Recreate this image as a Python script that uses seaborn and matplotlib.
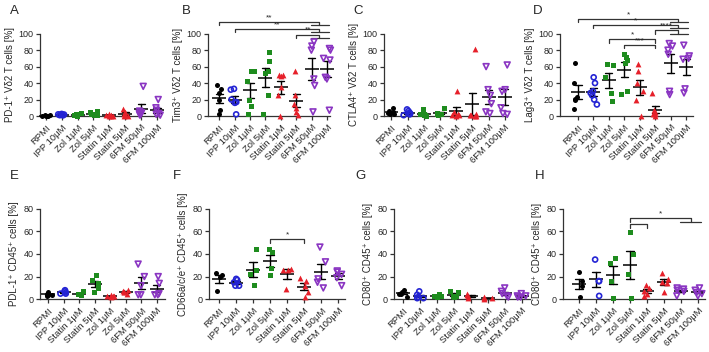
import numpy as np
import pandas as pd
import seaborn as sns
import matplotlib.pyplot as plt

sns.set_style('ticks')
plt.rcParams['font.family'] = ['Liberation Sans', 'DejaVu Sans']
np.random.seed(7)  # only for horizontal jitter of the dots

# categories
cats = ['RPMI', 'IPP 10μM', 'Zol 1μM', 'Zol 5μM', 'Statin 1μM', 'Statin 5μM', '6FM 50μM', '6FM 100μM']
cats_pdl1 = ['RPMI', 'IPP 10μM', 'Statin 1μM', 'Statin 5μM', 'Zol 1μM', 'Zol 5μM', '6FM 50μM', '6FM 100μM']

# top row: % of Vd2 T cells
pd1_vd2 = [[0.5, 0.3, 0.8, 0.2, 1.0, 0.4], [1.5, 2.0, 1.0, 2.5, 0.8, 1.8],
           [0.5, 1.2, 2.0, 3.5, 0.8, 1.5], [5.5, 4.5, 2.0, 1.0, 3.0, 1.5],
           [0.3, 1.0, 2.5, 0.5, 1.5, 0.2], [9.0, 5.0, 2.0, 1.0, 0.5, 0.3],
           [36, 6, 4, 3, 2, 1], [20, 10, 7, 3, 2, 1]]
tim3_vd2 = [[38, 33, 28, 20, 7, 3], [33, 32, 20, 17, 16, 2],
            [55, 55, 42, 20, 12, 2], [78, 67, 55, 52, 25, 3],
            [50, 49, 50, 35, 25, 0], [55, 25, 15, 10, 5, 1],
            [90, 85, 80, 45, 37, 5], [82, 80, 70, 68, 47, 45, 7]]
ctla4_vd2 = [[10, 6, 5, 4, 3, 2], [8, 6, 4, 3, 2, 1],
             [9, 3, 2, 1, 1, 0], [10, 4, 3, 2, 2, 1],
             [30, 5, 2, 1, 1, 0], [82, 3, 1, 1, 0, 0],
             [60, 32, 25, 15, 5, 3], [62, 32, 30, 10, 3, 2]]
lag3_vd2 = [[65, 40, 23, 20, 21, 8], [47, 40, 30, 28, 25, 20, 14],
            [62, 63, 47, 28, 18], [75, 72, 68, 65, 30, 27],
            [63, 55, 40, 30, 20, 0], [28, 7, 5, 3, 2, 0],
            [88, 85, 80, 75, 30, 26], [86, 73, 70, 69, 33, 28]]

# bottom row: % of CD45+ cells
pdl1_cd45 = [[6, 5, 4, 4, 3], [8, 7, 6, 5, 5], [7, 5, 5, 4, 4],
             [21, 17, 14, 10, 6], [4, 3, 3, 3, 2], [8, 7, 6, 6, 5],
             [31, 20, 12, 4, 4], [20, 14, 4, 4, 5]]
cd66_cd45 = [[23.5, 21, 20, 7], [18, 17, 15, 12, 12], [44, 26, 22, 13],
             [44, 42, 28, 21], [27, 26, 26, 9], [19, 16, 12, 6, 2],
             [46, 33, 18, 15, 10], [25, 24, 22, 19, 12]]
cd80_cd45_g = [[8, 6, 5, 5, 2], [7, 4, 2, 1, 1], [5, 3, 3, 2], [7, 6, 3, 3, 2],
               [5, 4, 3, 1], [2, 1, 1, 0], [10, 7, 5, 3, 2], [5, 3, 3, 2, 2]]
cd80_cd45_h = [[24, 16, 12, 2], [35, 16, 16, 3], [36, 32, 16, 1], [59, 40, 22, 1],
               [13, 10, 7, 5, 3], [23, 18, 15, 14, 6], [10, 9, 8, 7, 3], [10, 8, 6, 5, 3]]

# significance: (from, to, level, label, to 6FM pair)
sig_b = [(0, 6.5, 114, '**', True), (1, 6.5, 106, '**', True), (5, 6.5, 99, '**', True)]
sig_d = [(0, 6.5, 118, '*', True), (1, 6.5, 111, '*', True), (5, 6.5, 104, '****', True),
         (2, 5, 93, '*', False), (3, 5, 86.5, '***', False)]
sig_f = [(3, 5, 53, '*', False)]
sig_h = [(3, 6.6, 71.7, '*', True), (3, 4, 66.4, '', False)]

colors = ['#000000', '#2424d4', '#1e8c1e', '#1e8c1e', '#e6202a', '#e6202a', '#8a35c2', '#8a35c2']
markers = ['o', 'o', 's', 's', '^', '^', 'v', 'v']
hollow = [False, True, False, False, False, False, True, True]

W, H = 709, 352
fig = plt.figure(figsize=(W / 100, H / 100), dpi=100)


def add_ax(left, right, top, bottom):
    return fig.add_axes([left / W, 1 - bottom / H, (right - left) / W, (bottom - top) / H])


def bracket(ax, x0, x1, y, label, group, drop):
    kw = dict(color='#333333', lw=0.9, clip_on=False)
    ax.plot([x0, x0, x1, x1], [y - drop, y, y, y - drop], **kw)
    if group:
        ax.plot([5.95, 7.15], [y - drop, y - drop], **kw)
    if label:
        ax.annotate(label, xy=((x0 + x1) / 2, y), xytext=(0, 0.5), textcoords='offset points',
                    ha='center', va='bottom', fontsize=6, annotation_clip=False)


def panel(rect, order, vals, ylabel, ymax, xlim, sigs=()):
    ax = add_ax(*rect)
    df = pd.DataFrame([(c, v) for c, vs in zip(order, vals) for v in vs], columns=['cat', 'val'])
    for i, c in enumerate(order):
        sub = df[df.cat == c]
        sz = 4.2 if markers[i] in ('^', 'v') else 3.6
        n_before = len(ax.collections)
        sns.stripplot(data=sub, x='cat', y='val', order=order, ax=ax, color=colors[i],
                      marker=markers[i], size=sz, linewidth=0, jitter=0.25)
        for coll in ax.collections[n_before:]:
            if len(coll.get_offsets()) == 0:
                coll.remove()
            elif hollow[i]:
                coll.set_facecolor('none')
                coll.set_edgecolor(colors[i])
                coll.set_linewidth(1.2)
    sns.pointplot(data=df, x='cat', y='val', order=order, ax=ax, errorbar='se', color='black',
                  linestyle='none', marker='_', markersize=9.5, markeredgewidth=1.1,
                  capsize=0.45, err_kws={'linewidth': 1.0})
    for art in list(ax.collections) + list(ax.lines):
        art.set_clip_on(False)
    ax.set_ylim(0, ymax)
    ax.set_yticks(np.arange(0, ymax + 1, 20))
    ax.set_xlim(*xlim)
    ax.set_xlabel('')
    ax.set_ylabel(ylabel, fontsize=7, labelpad=3)
    ax.set_xticks(range(len(order)))
    ax.set_xticklabels(order, rotation=45, ha='right', rotation_mode='anchor', fontsize=6.8)
    ax.tick_params(axis='y', labelsize=6.5, length=3, width=0.9, pad=1.5, color='#333333')
    ax.tick_params(axis='x', length=3, width=0.9, pad=2, color='#333333')
    sns.despine(ax=ax)
    for s in ('left', 'bottom'):
        ax.spines[s].set_linewidth(0.9)
        ax.spines[s].set_color('#333333')
    drop = ymax * 0.04
    for x0, x1, lvl, lab, grp in sigs:
        bracket(ax, x0, x1, lvl, lab, grp, drop)
    return ax


top, bot = 33.7, 116
panel((40, 160, top, bot), cats, pd1_vd2, 'PD-1⁺ Vδ2 T cells [%]', 100, (-0.36, 7.19))
panel((208, 330, top, bot), cats, tim3_vd2, 'Tim3⁺ Vδ2 T cells [%]', 100, (-0.73, 7.19), sig_b)
panel((384, 507, top, bot), cats, ctla4_vd2, 'CTLA4⁺ Vδ2 T cells [%]', 100, (-0.46, 7.14))
panel((560, 693, top, bot), cats, lag3_vd2, 'Lag3⁺ Vδ2 T cells [%]', 100, (-1.17, 7.45), sig_d)

top, bot = 208.5, 299.3
panel((40, 165, top, bot), cats_pdl1, pdl1_cd45, 'PDL-1⁺ CD45⁺ cells [%]', 80, (-0.54, 7.53))
panel((209, 345, top, bot), cats, cd66_cd45, 'CD66a/c/e⁺ CD45⁺ cells [%]', 80, (-0.59, 7.39), sig_f)
panel((394, 530, top, bot), cats, cd80_cd45_g, 'CD80⁺ CD45⁺ cells [%]', 80, (-0.54, 7.5))
panel((563, 705, top, bot), cats, cd80_cd45_h, 'CD80⁺ CD45⁺ cells [%]', 80, (-0.94, 7.41), sig_h)

for lab, x, y in [('A', 10, 14), ('B', 182, 14), ('C', 353, 14), ('D', 533, 14),
                  ('E', 10, 179), ('F', 173, 179), ('G', 355, 179), ('H', 535, 179)]:
    fig.text(x / W, 1 - y / H, lab, fontsize=9.5, ha='left', va='baseline')

fig.savefig('out.png', dpi=100)
